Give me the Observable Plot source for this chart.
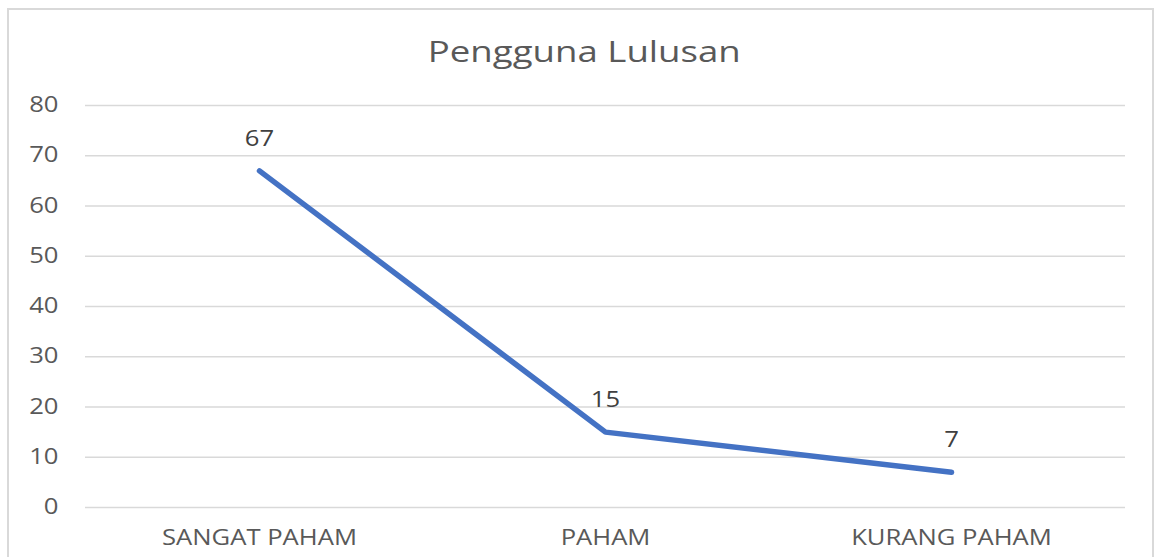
<!DOCTYPE html>
<html>
<head>
<meta charset="utf-8">
<script src="https://cdn.jsdelivr.net/npm/d3@7"></script>
<script src="https://cdn.jsdelivr.net/npm/@observablehq/plot@0.6"></script>
<style>
  html, body { margin: 0; padding: 0; background: #fff; }
  body { width: 1160px; height: 557px; position: relative; overflow: hidden; font-family: "Open Sans", "Noto Sans", sans-serif; }
  #frame { position: absolute; left: 7px; top: 8px; width: 1147px; height: 570px; border: 2px solid #d9d9d9; box-sizing: border-box; }
  #title { position: absolute; left: 4px; top: 0; width: 1160px; height: 90px; line-height: 102px; text-align: center; font-size: 30px; color: #595959; }
  #title span { display: inline-block; transform: scaleX(1.22); transform-origin: center; }
  #chart { position: absolute; left: 0; top: 90px; }
</style>
</head>
<body>
<div id="frame"></div>
<div id="title"><span>Pengguna Lulusan</span></div>
<div id="chart"></div>
<script>
const categories = ["SANGAT PAHAM", "PAHAM", "KURANG PAHAM"];
const values = [67, 15, 7];
const yTicks = [0, 10, 20, 30, 40, 50, 60, 70, 80];

const data = categories.map((c, i) => ({category: c, value: values[i]}));

const plot = Plot.plot({
  width: 1160,
  height: 467,
  marginLeft: 85,
  marginRight: 35,
  marginTop: 15,
  marginBottom: 50,
  style: {fontFamily: "'Open Sans', 'Noto Sans', sans-serif", fontSize: "21px", color: "#595959", background: "transparent"},
  x: {type: "point", domain: categories, padding: 0.5, label: null},
  y: {domain: [0, 80], label: null},
  marks: [
    Plot.ruleY(yTicks, {stroke: "#d9d9d9", strokeWidth: 1.5}),
    Plot.axisY(yTicks, {tickSize: 0, tickPadding: 27, label: null, fontSize: 21, fill: "#595959"}),
    Plot.axisX({tickSize: 0, tickPadding: 23, label: null, fontSize: 21, fill: "#595959"}),
    Plot.line(data, {x: "category", y: "value", stroke: "#4472C4", strokeWidth: 5.5, strokeLinecap: "round", strokeLinejoin: "round"}),
    Plot.text(data, {x: "category", y: "value", text: d => String(d.value), dy: -32, fontSize: 21, fill: "#404040"})
  ]
});
document.getElementById("chart").appendChild(plot);
// horizontal stretch of the texts, as in the reference picture
plot.querySelectorAll("text").forEach(t => {
  const w = t.getComputedTextLength();
  if (w > 0) {
    t.setAttribute("textLength", (w * 1.22).toFixed(1));
    t.setAttribute("lengthAdjust", "spacingAndGlyphs");
  }
});
</script>
</body>
</html>
